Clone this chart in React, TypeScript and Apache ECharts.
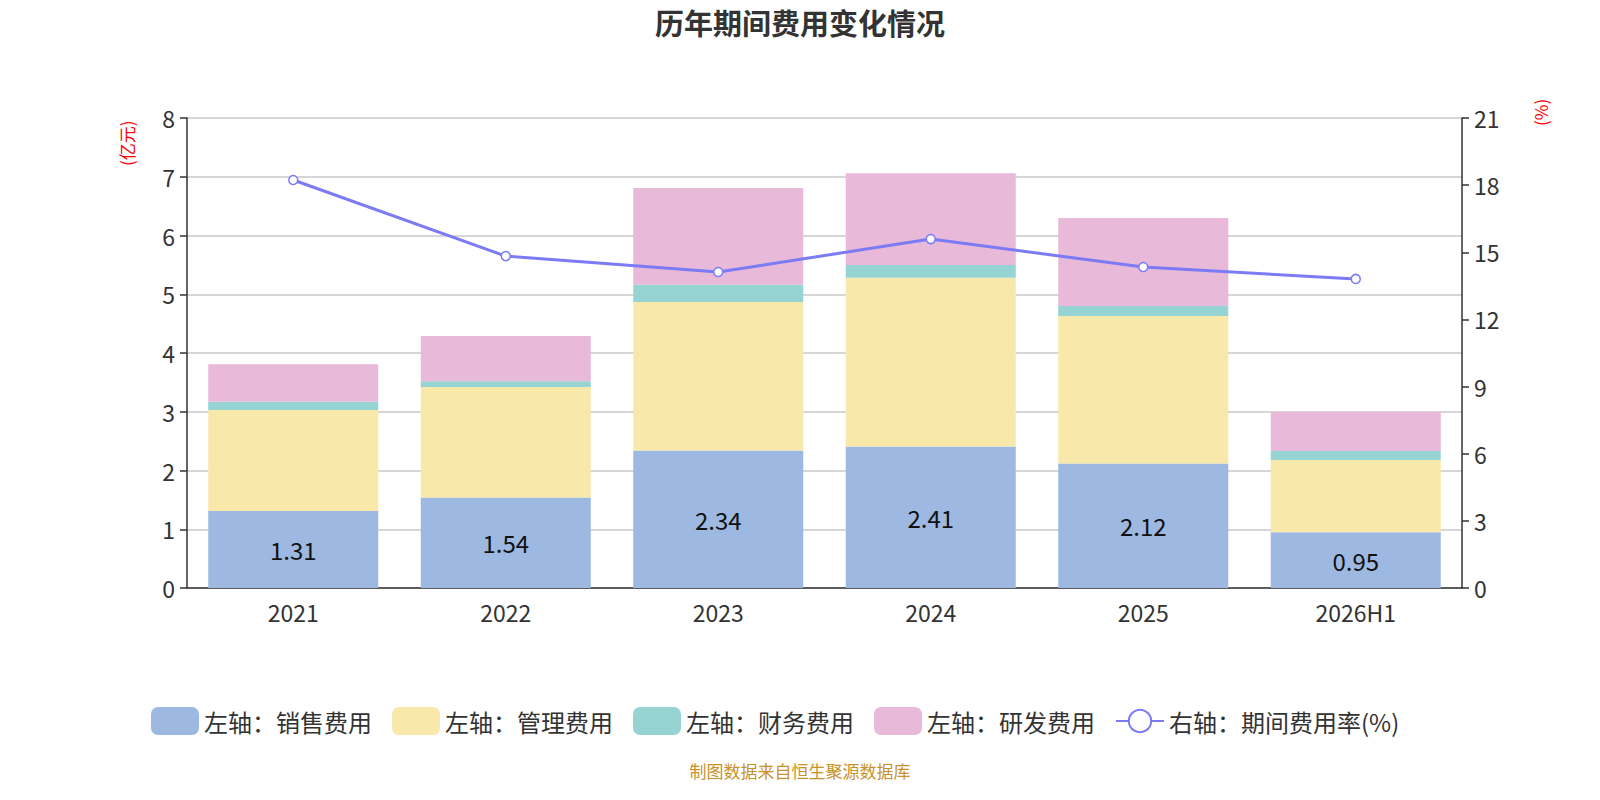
import * as echarts from 'echarts'
import { useEffect, useRef } from 'react'

const years = ['2021', '2022', '2023', '2024', '2025', '2026H1']
const sales = [1.31, 1.54, 2.34, 2.41, 2.12, 0.95]
const admin = [1.72, 1.88, 2.53, 2.87, 2.51, 1.23]
const finance = [0.14, 0.1, 0.29, 0.22, 0.17, 0.15]
const rnd = [0.64, 0.77, 1.65, 1.56, 1.5, 0.67]
const expenseRate = [18.23, 14.83, 14.12, 15.59, 14.34, 13.81]

const font = '"Noto Sans CJK SC", "Noto Sans", sans-serif'

function buildOption() {
  const barBase = {
    type: 'bar',
    stack: 'cost',
    barWidth: '80%',
  }
  return {
    animation: false,
    textStyle: { fontFamily: font },
    title: {
      text: '历年期间费用变化情况',
      left: 'center',
      top: 2,
      textStyle: { fontSize: 29, fontWeight: 'bold', color: '#333', fontFamily: font },
    },
    legend: {
      top: 702,
      left: 146,
      itemWidth: 48,
      itemHeight: 28,
      itemGap: 20,
      textStyle: { fontSize: 24, color: '#333', fontFamily: font },
      data: [
        { name: '左轴：销售费用', icon: 'roundRect' },
        { name: '左轴：管理费用', icon: 'roundRect' },
        { name: '左轴：财务费用', icon: 'roundRect' },
        { name: '左轴：研发费用', icon: 'roundRect' },
        { name: '右轴：期间费用率(%)' },
      ],
    },
    grid: { left: 187, right: 138, top: 118, bottom: 212, containLabel: false },
    graphic: [
      {
        type: 'text',
        x: 118,
        y: 166,
        rotation: Math.PI / 2,
        style: { text: '(亿元)', fill: '#ff0000', fontSize: 17, fontFamily: font },
      },
      {
        type: 'text',
        x: 1532,
        y: 126,
        rotation: Math.PI / 2,
        style: { text: '(%)', fill: '#ff0000', fontSize: 17, fontFamily: font },
      },
      {
        type: 'text',
        left: 'center',
        top: 762,
        style: { text: '制图数据来自恒生聚源数据库', fill: '#c8922a', fontSize: 17, fontFamily: font },
      },
    ],
    xAxis: {
      type: 'category',
      data: years,
      axisLine: { lineStyle: { color: '#333', width: 1.5 } },
      axisTick: { length: 7, lineStyle: { color: '#333', width: 1.5 } },
      axisLabel: { fontSize: 23, color: '#333', margin: 12 },
    },
    yAxis: [
      {
        type: 'value',
        min: 0,
        max: 8,
        interval: 1,
        axisLine: { show: true, lineStyle: { color: '#333', width: 1.5 } },
        axisTick: { show: true, length: 7, lineStyle: { color: '#333', width: 1.5 } },
        axisLabel: { fontSize: 23, color: '#333', margin: 12 },
        splitLine: { lineStyle: { color: '#c8c8c8', width: 1.5 } },
      },
      {
        type: 'value',
        min: 0,
        max: 21,
        interval: 3,
        axisLine: { show: true, lineStyle: { color: '#333', width: 1.5 } },
        axisTick: { show: true, length: 7, lineStyle: { color: '#333', width: 1.5 } },
        axisLabel: { fontSize: 23, color: '#333', margin: 12 },
        splitLine: { show: false },
      },
    ],
    series: [
      {
        ...barBase,
        name: '左轴：销售费用',
        data: sales,
        itemStyle: { color: '#9db9e2' },
        label: {
          show: true,
          position: 'inside',
          fontSize: 24,
          color: '#111',
          formatter: (p: { value: number }) => p.value.toFixed(2),
        },
      },
      { ...barBase, name: '左轴：管理费用', data: admin, itemStyle: { color: '#f8e8a9' } },
      { ...barBase, name: '左轴：财务费用', data: finance, itemStyle: { color: '#96d3d3' } },
      { ...barBase, name: '左轴：研发费用', data: rnd, itemStyle: { color: '#e8b9d9' } },
      {
        name: '右轴：期间费用率(%)',
        type: 'line',
        yAxisIndex: 1,
        data: expenseRate,
        symbol: 'circle',
        symbolSize: 9,
        lineStyle: { color: '#7b7bf5', width: 3 },
        itemStyle: { color: '#fff', borderColor: '#7b7bf5', borderWidth: 1.5 },
      },
    ],
  }
}

export default function App() {
  const ref = useRef<HTMLDivElement>(null)

  useEffect(() => {
    const el = ref.current
    if (!el) return
    const chart = echarts.init(el, null, { renderer: 'svg' })
    chart.setOption(buildOption())
    return () => chart.dispose()
  }, [])

  return (
    <div
      ref={ref}
      style={{ position: 'absolute', left: 0, top: 0, width: 1600, height: 800, background: '#fff' }}
    />
  )
}
